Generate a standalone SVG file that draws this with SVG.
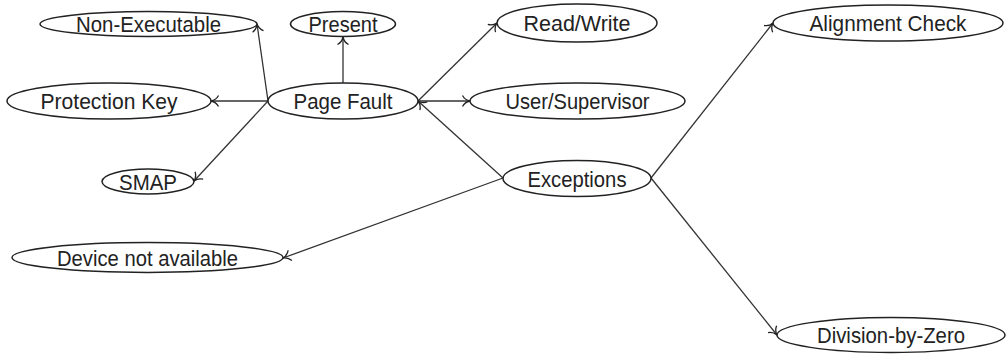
<svg xmlns="http://www.w3.org/2000/svg" width="1007" height="354" viewBox="0 0 1007 354">
<style>
.n ellipse{fill:#fff;stroke:#222;stroke-width:1.5}
.n text{font-family:"Liberation Sans","DejaVu Sans",sans-serif;font-size:22.5px;fill:#222;text-anchor:middle}
.e line{stroke:#333;stroke-width:1.3;fill:none}
</style>
<defs>
<marker id="to" viewBox="-10 -7 12 14" markerWidth="12" markerHeight="14" refX="0" refY="0" orient="auto" markerUnits="userSpaceOnUse">
<path d="M-7.5,-5.5 C-5.5,-1.8 -2,-0.4 0,0 C-2,0.4 -5.5,1.8 -7.5,5.5" fill="none" stroke="#222" stroke-width="1.3"/>
</marker>
</defs>
<rect width="1007" height="354" fill="#fff"/>
<g class="e">
<line x1="268" y1="101" x2="257" y2="24" marker-end="url(#to)"/>
<line x1="343" y1="83" x2="343" y2="37" marker-end="url(#to)"/>
<line x1="268" y1="101" x2="211" y2="101" marker-end="url(#to)"/>
<line x1="268" y1="101" x2="194" y2="181" marker-end="url(#to)"/>
<line x1="418" y1="101" x2="497" y2="23" marker-end="url(#to)"/>
<line x1="418" y1="101" x2="470" y2="101" marker-end="url(#to)"/>
<line x1="503" y1="178" x2="418" y2="101" marker-end="url(#to)"/>
<line x1="651" y1="178" x2="773" y2="23" marker-end="url(#to)"/>
<line x1="651" y1="178" x2="777" y2="335" marker-end="url(#to)"/>
<line x1="503" y1="178" x2="283" y2="258" marker-end="url(#to)"/>
</g>
<g class="n" id="non-executable"><ellipse cx="148.5" cy="24" rx="108.5" ry="12.5"/><text x="148.5" y="32" textLength="145" lengthAdjust="spacingAndGlyphs">Non-Executable</text></g>
<g class="n" id="present"><ellipse cx="343" cy="24" rx="52.5" ry="12.5"/><text x="343" y="32" textLength="69" lengthAdjust="spacingAndGlyphs">Present</text></g>
<g class="n" id="protection-key"><ellipse cx="109" cy="101" rx="102" ry="18"/><text x="109" y="108.5" textLength="137" lengthAdjust="spacingAndGlyphs">Protection Key</text></g>
<g class="n" id="page-fault"><ellipse cx="343" cy="101" rx="75" ry="18"/><text x="343" y="108.5" textLength="99" lengthAdjust="spacingAndGlyphs">Page Fault</text></g>
<g class="n" id="smap"><ellipse cx="148" cy="181.5" rx="46" ry="12.5"/><text x="148" y="189.5" textLength="58" lengthAdjust="spacingAndGlyphs">SMAP</text></g>
<g class="n" id="read-write"><ellipse cx="577" cy="23" rx="80" ry="19"/><text x="577" y="31" textLength="107" lengthAdjust="spacingAndGlyphs">Read/Write</text></g>
<g class="n" id="user-supervisor"><ellipse cx="577.5" cy="101" rx="107.5" ry="18"/><text x="577.5" y="108.5" textLength="144" lengthAdjust="spacingAndGlyphs">User/Supervisor</text></g>
<g class="n" id="alignment-check"><ellipse cx="888" cy="23" rx="115" ry="18"/><text x="888" y="31" textLength="157" lengthAdjust="spacingAndGlyphs">Alignment Check</text></g>
<g class="n" id="exceptions"><ellipse cx="577" cy="178.5" rx="74" ry="18"/><text x="577" y="186.5" textLength="99" lengthAdjust="spacingAndGlyphs">Exceptions</text></g>
<g class="n" id="device-not-available"><ellipse cx="147.5" cy="257.5" rx="135.5" ry="15"/><text x="147.5" y="265.5" textLength="181" lengthAdjust="spacingAndGlyphs">Device not available</text></g>
<g class="n" id="division-by-zero"><ellipse cx="891" cy="335" rx="114" ry="17.5"/><text x="891" y="343" textLength="148" lengthAdjust="spacingAndGlyphs">Division-by-Zero</text></g>
</svg>
